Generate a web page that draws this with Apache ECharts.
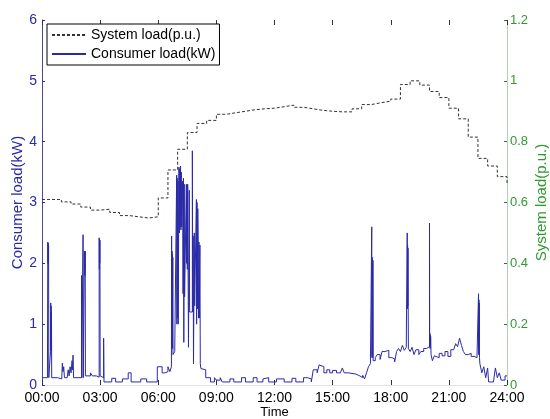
<!DOCTYPE html>
<html>
<head>
<meta charset="utf-8">
<script src="https://cdn.jsdelivr.net/npm/echarts@6/dist/echarts.min.js"></script>
<style>
  html, body { margin: 0; padding: 0; background: #fff; }
  #chart { width: 550px; height: 419px; }
</style>
</head>
<body>
<div id="chart"></div>
<script>
"use strict";

// System load (p.u.), one value per half hour from 00:00 to 24:00.
const systemLoad = [
  0.610, 0.610, 0.602, 0.595, 0.585, 0.575, 0.578, 0.567,
  0.557, 0.553, 0.549, 0.553, 0.615, 0.707, 0.775, 0.830,
  0.860, 0.870, 0.890, 0.895, 0.900, 0.905, 0.908, 0.910,
  0.915, 0.920, 0.913, 0.908, 0.903, 0.900, 0.898, 0.898,
  0.908, 0.922, 0.928, 0.933, 0.940, 0.988, 1.000, 0.986,
  0.965, 0.945, 0.910, 0.875, 0.815, 0.745, 0.720, 0.685,
  0.660,
];

// Consumer load (kW) as [hour, kW], split by part of the day.
const consumerNight = [
  [0.00, 0.12], [0.28, 0.10],
  [0.30, 2.35], [0.31, 2.00], [0.32, 2.33], [0.33, 2.05], [0.34, 2.30], [0.35, 0.12],
  [0.42, 0.12], [0.44, 0.55], [0.45, 1.35], [0.46, 0.60], [0.47, 1.30], [0.48, 0.55], [0.49, 1.20], [0.50, 0.12],
  [0.80, 0.10], [1.02, 0.13], [1.05, 0.36], [1.08, 0.22], [1.12, 0.30], [1.16, 0.12],
  [1.30, 0.10], [1.35, 0.25], [1.40, 0.15], [1.45, 0.30], [1.50, 0.20], [1.55, 0.40],
  [1.58, 0.25], [1.60, 0.49], [1.63, 0.12],
  [2.04, 1.80], [2.05, 0.12], [2.12, 2.47], [2.13, 0.12],
  [2.19, 2.20], [2.20, 1.90], [2.21, 2.19], [2.22, 1.80], [2.23, 2.20], [2.24, 0.15],
  [2.50, 0.20], [2.60, 0.15], [2.80, 0.18], [2.90, 0.13],
  [2.95, 2.42], [2.96, 1.90], [2.97, 2.40], [2.98, 2.00], [2.99, 2.38], [3.00, 0.15], [3.05, 0.12],
  [3.18, 0.77], [3.20, 0.05],
  [3.60, 0.11], [3.80, 0.05], [4.15, 0.10], [4.45, 0.20], [4.60, 0.05], [5.10, 0.10],
  [5.40, 0.05], [5.95, 0.30], [6.20, 0.20], [6.35, 0.22], [6.50, 0.30], [6.60, 0.22], [6.68, 0.30],
];

const consumerMorning = [
  [6.69, 2.45], [6.70, 0.60], [6.71, 2.20], [6.72, 0.70], [6.73, 2.15], [6.74, 0.60], [6.75, 2.10], [6.76, 0.50],
  [6.85, 0.55], [6.95, 3.45], [6.96, 1.00], [6.98, 3.40], [7.00, 1.10], [7.02, 3.35], [7.03, 1.00],
  [7.07, 3.58], [7.09, 2.50], [7.11, 3.55], [7.13, 2.60], [7.15, 3.60], [7.17, 2.55], [7.19, 3.50], [7.21, 2.60],
  [7.26, 3.35], [7.28, 1.50], [7.30, 3.40], [7.32, 0.70], [7.34, 3.30], [7.36, 1.45],
  [7.45, 3.30], [7.46, 2.00], [7.48, 3.25], [7.50, 1.90], [7.52, 3.30], [7.56, 0.62], [7.60, 3.20], [7.62, 1.20],
  [7.76, 3.85], [7.77, 2.50], [7.79, 1.20], [7.80, 2.45], [7.82, 0.35], [7.86, 2.50], [7.88, 1.30],
  [7.97, 3.05], [7.98, 1.00], [8.00, 3.00], [8.02, 1.25], [8.04, 2.90], [8.06, 2.40], [8.08, 1.10],
  [8.10, 2.35], [8.12, 1.10], [8.15, 2.30], [8.17, 0.35], [8.20, 0.27],
];

const consumerDay = [
  [8.30, 0.25], [8.45, 0.12], [8.70, 0.05], [8.90, 0.12], [9.00, 0.08], [9.20, 0.12], [9.30, 0.05],
  [9.70, 0.10], [9.90, 0.05], [10.30, 0.12], [10.50, 0.05], [10.90, 0.12], [11.10, 0.05],
  [11.40, 0.10], [11.50, 0.12], [11.70, 0.05], [12.10, 0.10], [12.50, 0.05], [12.90, 0.11],
  [13.10, 0.05], [13.50, 0.12], [13.70, 0.10], [13.90, 0.05],
  [14.00, 0.25], [14.20, 0.20], [14.30, 0.33], [14.40, 0.30], [14.55, 0.20], [14.70, 0.25],
  [14.85, 0.20], [15.00, 0.24], [15.20, 0.20], [15.40, 0.22], [15.50, 0.28], [15.60, 0.20],
  [15.80, 0.22], [15.90, 0.18], [16.20, 0.15], [16.40, 0.12], [16.55, 0.16], [16.65, 0.10],
  [16.75, 0.20], [16.85, 0.30], [16.95, 0.35],
];

const consumerEvening = [
  [17.02, 2.60], [17.03, 0.45], [17.04, 2.10], [17.05, 0.50], [17.06, 2.00], [17.07, 0.45], [17.08, 2.05], [17.09, 0.40],
  [17.20, 0.45], [17.30, 0.50], [17.45, 0.42], [17.55, 0.55], [17.70, 0.52], [17.80, 0.57],
  [17.90, 0.45], [18.05, 0.43], [18.20, 0.38], [18.30, 0.55], [18.40, 0.60], [18.50, 0.55],
  [18.60, 0.65], [18.70, 0.57], [18.80, 0.62],
  [18.85, 2.50], [18.86, 1.25], [18.87, 2.30], [18.88, 1.30], [18.89, 2.25], [18.90, 1.25], [18.91, 0.60],
  [19.00, 0.55], [19.10, 0.62], [19.20, 0.50], [19.30, 0.58], [19.45, 0.50], [19.55, 0.55],
  [19.70, 0.60], [19.85, 0.58], [19.95, 0.63],
  [20.00, 2.66], [20.01, 0.65], [20.02, 0.85], [20.03, 0.60], [20.04, 0.82], [20.05, 0.62], [20.06, 0.80], [20.08, 0.50],
  [20.15, 0.40], [20.25, 0.48], [20.35, 0.45], [20.50, 0.52], [20.65, 0.48], [20.80, 0.55],
  [20.95, 0.47], [21.10, 0.58], [21.25, 0.55], [21.35, 0.68], [21.45, 0.63], [21.55, 0.77],
  [21.65, 0.65], [21.75, 0.55], [21.85, 0.50], [22.00, 0.52], [22.15, 0.47], [22.30, 0.45],
  [22.45, 0.42], [22.50, 0.48],
  [22.53, 1.50], [22.54, 0.50], [22.55, 1.40], [22.56, 0.60], [22.57, 1.35], [22.58, 0.45], [22.60, 0.35],
  [22.70, 0.20], [22.80, 0.30], [22.90, 0.12], [23.00, 0.28], [23.05, 0.05], [23.30, 0.08],
  [23.40, 0.28], [23.50, 0.12], [23.60, 0.20], [23.70, 0.08], [23.90, 0.15], [24.00, 0.15],
];

const BLUE = "#2a2aa8";
const GREEN = "#2f9a2f";
const FONT = "Liberation Sans";

const hourLabel = (v) => (v < 10 ? "0" + v : "" + v) + ":00";

const systemData = systemLoad.map((v, i) => [i * 0.5, v]);
const consumerData = [].concat(consumerNight, consumerMorning, consumerDay, consumerEvening);

const chart = echarts.init(document.getElementById("chart"), null, { renderer: "canvas" });

chart.setOption({
  animation: false,
  backgroundColor: "#fff",
  textStyle: { fontFamily: FONT },
  grid: { left: 42, right: 43, top: 20, bottom: 34, outerBoundsMode: "none", containLabel: false },
  legend: {
    left: 47,
    top: 24,
    orient: "vertical",
    itemWidth: 34,
    itemHeight: 14,
    itemGap: 5,
    padding: [4, 4, 4, 4],
    borderColor: "#000",
    borderWidth: 1,
    backgroundColor: "#fff",
    itemStyle: { opacity: 0 },
    textStyle: { fontFamily: FONT, fontSize: 14, color: "#000" },
    data: ["System load(p.u.)", "Consumer load(kW)"],
  },
  xAxis: [
    {
      type: "value",
      min: 0,
      max: 24,
      interval: 3,
      name: "Time",
      nameLocation: "middle",
      nameGap: 21,
      nameMoveOverlap: false,
      nameTextStyle: { fontFamily: FONT, fontSize: 13, color: "#000" },
      axisLine: { onZero: false, lineStyle: { color: "#e2e2e2" } },
      axisTick: { inside: true, length: 5, lineStyle: { color: "#333" } },
      axisLabel: { formatter: hourLabel, fontFamily: FONT, fontSize: 14, color: "#000", margin: 6 },
      splitLine: { show: false },
    },
    {
      type: "value",
      position: "top",
      min: 0,
      max: 24,
      interval: 3,
      axisLine: { show: false, onZero: false },
      axisTick: { inside: true, length: 5, lineStyle: { color: "#333" } },
      axisLabel: { show: false },
      splitLine: { show: false },
    },
  ],
  yAxis: [
    {
      type: "value",
      position: "left",
      min: 0,
      max: 6,
      interval: 1,
      name: "Consumer load(kW)",
      nameLocation: "middle",
      nameRotate: 90,
      nameGap: 17,
      nameMoveOverlap: false,
      nameTextStyle: { fontFamily: FONT, fontSize: 15, color: BLUE },
      axisLine: { show: true, onZero: false, lineStyle: { color: "#4a4a90" } },
      axisTick: { show: true, inside: true, length: 3, lineStyle: { color: BLUE } },
      axisLabel: { fontFamily: FONT, fontSize: 14, color: BLUE, margin: 5 },
      splitLine: { show: false },
    },
    {
      type: "value",
      min: 0,
      max: 1.2,
      interval: 0.2,
      position: "right",
      name: "System load(p.u.)",
      nameLocation: "middle",
      nameRotate: 90,
      nameGap: 27,
      nameMoveOverlap: false,
      nameTextStyle: { fontFamily: FONT, fontSize: 15, color: GREEN },
      axisLine: { show: true, onZero: false, lineStyle: { color: "#b5d0b5" } },
      axisTick: { show: true, inside: true, length: 3, lineStyle: { color: "#555" } },
      axisLabel: {
        fontFamily: FONT,
        fontSize: 13,
        color: GREEN,
        margin: 3,
        formatter: (v) => (v === 0 ? "0" : v === 1 ? "1" : v.toFixed(1)),
      },
      splitLine: { show: false },
    },
  ],
  series: [
    {
      name: "System load(p.u.)",
      type: "line",
      yAxisIndex: 1,
      step: "end",
      showSymbol: false,
      symbol: "none",
      data: systemData,
      lineStyle: { color: "#333", width: 1, type: [3, 2] },
      itemStyle: { color: "#333" },
      z: 3,
    },
    {
      name: "Consumer load(kW)",
      type: "line",
      yAxisIndex: 0,
      step: "end",
      showSymbol: false,
      symbol: "none",
      data: consumerData,
      lineStyle: { color: BLUE, width: 1 },
      itemStyle: { color: BLUE },
      z: 2,
    },
  ],
});
</script>
</body>
</html>
